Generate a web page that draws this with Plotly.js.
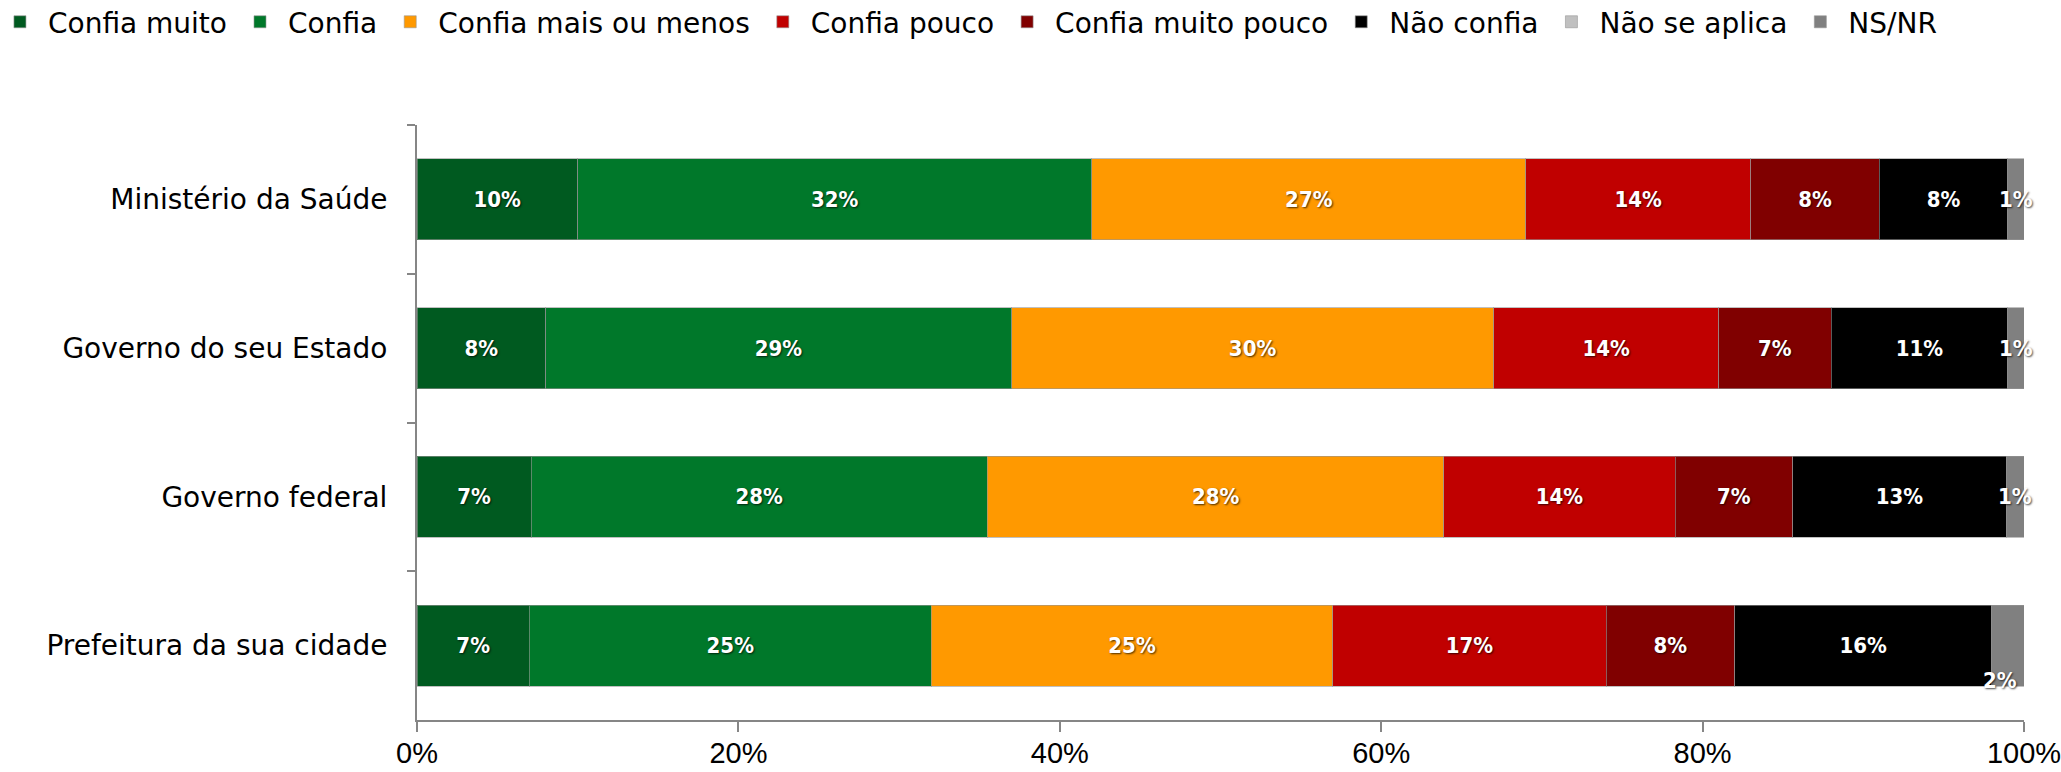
<!DOCTYPE html>
<html>
<head>
<meta charset="utf-8">
<script src="https://cdn.plot.ly/plotly-3.0.1.min.js"></script>
<style>
  html, body { margin: 0; padding: 0; background: #fff; }
  #chart { width: 2061px; height: 772px; }
</style>
</head>
<body>
<div id="chart"></div>
<script>
// categories (top to bottom)
var categories = ['Ministério da Saúde', 'Governo do seu Estado', 'Governo federal', 'Prefeitura da sua cidade'];

// shares in %, one array per answer
var confiaMuito = [10, 8, 7.1, 7];
var confia = [32, 29, 28.4, 25];
var maisOuMenos = [27, 30, 28.4, 25];
var confiaPouco = [14, 14, 14.4, 17];
var muitoPouco = [8, 7, 7.3, 8];
var naoConfia = [8, 11, 13.3, 16];
var naoSeAplica = [0, 0, 0, 0];
var nsNr = [1, 1, 1.1, 2];

var seriesNames = ['Confia muito', 'Confia', 'Confia mais ou menos', 'Confia pouco', 'Confia muito pouco', 'Não confia', 'Não se aplica', 'NS/NR'];
var seriesValues = [confiaMuito, confia, maisOuMenos, confiaPouco, muitoPouco, naoConfia, naoSeAplica, nsNr];
var seriesColors = ['#005A20', '#00782A', '#FF9900', '#C00000', '#800000', '#000000', '#C0C0C0', '#808080'];

var labelFont = {
    family: 'DejaVu Sans Condensed, DejaVu Sans, sans-serif',
    size: 22,
    color: '#ffffff',
    weight: 'bold',
    shadow: '1px 1px 2px rgba(0,0,0,0.7)'
};

function pct(v) {
    return v > 0 ? Math.round(v) + '%' : '';
}

var data = [];
for (var s = 0; s < seriesNames.length; s++) {
    var isLast = (s === seriesNames.length - 1);
    data.push({
        type: 'bar',
        orientation: 'h',
        name: seriesNames[s],
        y: categories,
        x: seriesValues[s],
        text: isLast ? null : seriesValues[s].map(pct),
        textposition: isLast ? 'none' : 'inside',
        insidetextanchor: 'middle',
        textangle: 0,
        constraintext: 'none',
        textfont: labelFont,
        hoverinfo: 'name+x',
        marker: {
            color: seriesColors[s],
            line: {color: 'rgba(150,150,150,0.6)', width: 1}
        }
    });
}

// NS/NR labels overflow the thin segment, so draw them as annotations
var annotations = [];
for (var c = 0; c < categories.length; c++) {
    var before = 0;
    for (var k = 0; k < seriesValues.length - 1; k++) before += seriesValues[k][c];
    var v = nsNr[c];
    var small = v < 1.5;
    annotations.push({
        x: before + v / 2,
        y: categories[c],
        xref: 'x',
        yref: 'y',
        text: pct(v),
        showarrow: false,
        font: labelFont,
        xshift: small ? 0 : -8,
        yshift: small ? 0 : -35
    });
}

var layout = {
    width: 2061,
    height: 772,
    margin: {l: 417, r: 37, t: 125, b: 52, autoexpand: false},
    paper_bgcolor: '#ffffff',
    plot_bgcolor: '#ffffff',
    barmode: 'stack',
    bargap: 0.455,
    showlegend: true,
    legend: {
        orientation: 'h',
        x: -0.2645,
        y: 1.215,
        xanchor: 'left',
        yanchor: 'top',
        traceorder: 'normal',
        itemwidth: 46,
        font: {family: 'DejaVu Sans, sans-serif', size: 28, color: '#000'},
        itemclick: false
    },
    xaxis: {
        range: [0, 100],
        tickmode: 'linear',
        tick0: 0,
        dtick: 20,
        ticksuffix: '%',
        showgrid: false,
        zeroline: false,
        showline: true,
        linecolor: '#868686',
        linewidth: 2,
        ticks: 'outside',
        ticklen: 10,
        tickwidth: 2,
        tickcolor: '#868686',
        ticklabelstandoff: -4,
        ticklabeloverflow: 'allow',
        tickfont: {family: 'Liberation Sans, sans-serif', size: 29, color: '#000'},
        fixedrange: true
    },
    yaxis: {
        type: 'category',
        autorange: 'reversed',
        showgrid: false,
        zeroline: false,
        showline: true,
        linecolor: '#868686',
        linewidth: 2,
        ticks: 'outside',
        tickson: 'boundaries',
        ticklen: 8,
        tickwidth: 2,
        tickcolor: '#868686',
        ticklabelstandoff: 22,
        tickfont: {family: 'DejaVu Sans, sans-serif', size: 28, color: '#000'},
        fixedrange: true
    },
    annotations: annotations
};

Plotly.newPlot('chart', data, layout, {displayModeBar: false, staticPlot: true});
</script>
</body>
</html>
